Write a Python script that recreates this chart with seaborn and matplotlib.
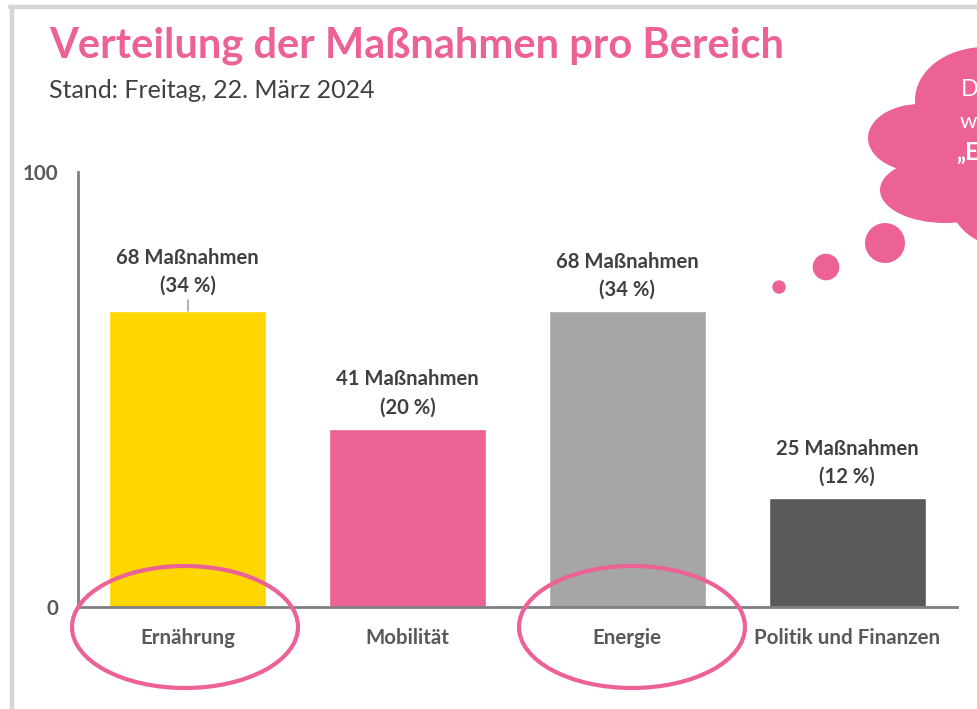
import matplotlib
matplotlib.use("Agg")
import matplotlib.pyplot as plt
import seaborn as sns
import pandas as pd
from matplotlib.patches import Ellipse
from matplotlib.lines import Line2D

# ---- data ----
categories = ["Ernährung", "Mobilität", "Energie", "Politik und Finanzen"]
counts = [68, 41, 68, 25]
percents = [34, 20, 34, 12]
bar_colors = ["#FFD700", "#EC6196", "#A6A6A6", "#595959"]
y_ticks = [0, 100]
title = "Verteilung der Maßnahmen pro Bereich"
subtitle = "Stand: Freitag, 22. März 2024"

sns.set_theme(style="white")
plt.rcParams["font.family"] = ["Lato", "DejaVu Sans"]

W, H = 978, 709
fig = plt.figure(figsize=(W / 100, H / 100), dpi=100)
fig.patch.set_facecolor("white")

def fx(px):
    return px / W

def fy(py):
    return 1 - py / H

# slide frame
fig.add_artist(Line2D([fx(12), fx(12)], [fy(7), fy(709)], color="#D6D6D6", lw=3.2, transform=fig.transFigure))
fig.add_artist(Line2D([fx(10), fx(978)], [fy(7), fy(7)], color="#D6D6D6", lw=3.2, transform=fig.transFigure))

ax = fig.add_axes([fx(78), fy(607), fx(957) - fx(78), fy(172) - fy(607)])
df = pd.DataFrame({"Bereich": categories, "Anzahl": counts})
sns.barplot(data=df, x="Bereich", y="Anzahl", hue="Bereich", palette=bar_colors,
            width=0.714, legend=False, ax=ax, saturation=1)
ax.set_xlim(-0.5, 3.5)
ax.set_ylim(0, 100)
ax.set_xlabel("")
ax.set_ylabel("")
ax.set_yticks(y_ticks)
ax.set_xticks(range(len(categories)))
ax.set_xticks([3.5], minor=True)
ax.set_xticklabels(categories)
for s in ["top", "right"]:
    ax.spines[s].set_visible(False)
for s in ["left", "bottom"]:
    ax.spines[s].set_color("#7F7F7F")
    ax.spines[s].set_linewidth(2.0)
ax.tick_params(axis="both", which="both", colors="#7F7F7F", width=2.0, length=5,
               direction="out", labelcolor="#595959", labelsize=14.8)
ax.tick_params(axis="x", pad=10)
ax.tick_params(axis="y", pad=9)
for lab in ax.get_xticklabels() + ax.get_yticklabels():
    lab.set_fontweight("bold")
ax.set_facecolor("white")

# bar labels
for i, (c, p) in enumerate(zip(counts, percents)):
    extra = 1.0 if i == 0 else 0
    ax.text(i, c + 2.6 + extra, f"{c} Maßnahmen\n({p} %)", ha="center", va="bottom",
            fontsize=14.6, fontweight="bold", color="#404040", linespacing=1.5)
    if i == 0:
        ax.plot([i, i], [c, c + 2.6], color="#A6A6A6", lw=1.2)

# highlight ellipses
for cx in [185, 632]:
    fig.add_artist(Ellipse((fx(cx), fy(627)), 226 / W, 122 / H, fill=False,
                           edgecolor="#EC6196", lw=3.0, transform=fig.transFigure))

# titles
fig.text(fx(49), fy(46), title, fontsize=30, fontweight="bold", color="#EC6196",
         va="center", ha="left")
fig.text(fx(49), fy(91), subtitle, fontsize=18, color="#404040", va="center", ha="left")

# thought cloud
pink = "#EC6196"
lobes = [(985, 100, 70, 53), (920, 138, 52, 34), (945, 190, 65, 33),
         (1010, 200, 60, 48), (990, 150, 62, 62)]
for cx, cy, rx, ry in lobes:
    fig.add_artist(Ellipse((fx(cx), fy(cy)), 2 * rx / W, 2 * ry / H, facecolor=pink,
                           edgecolor="none", transform=fig.transFigure))
for cx, cy, r in [(885, 243, 20), (826, 267, 13.3), (779, 287, 6.7)]:
    fig.add_artist(Ellipse((fx(cx), fy(cy)), 2 * r / W, 2 * r / H, facecolor=pink,
                           edgecolor="none", transform=fig.transFigure))
fig.text(fx(961), fy(90), "D", fontsize=17, color="white", va="center", ha="left")
fig.text(fx(977), fy(122), "w", fontsize=16, color="white", va="center", ha="right")
fig.text(fx(956), fy(153), "„E", fontsize=17, color="white", fontweight="bold",
         va="center", ha="left")

fig.savefig("out.png", dpi=100)
